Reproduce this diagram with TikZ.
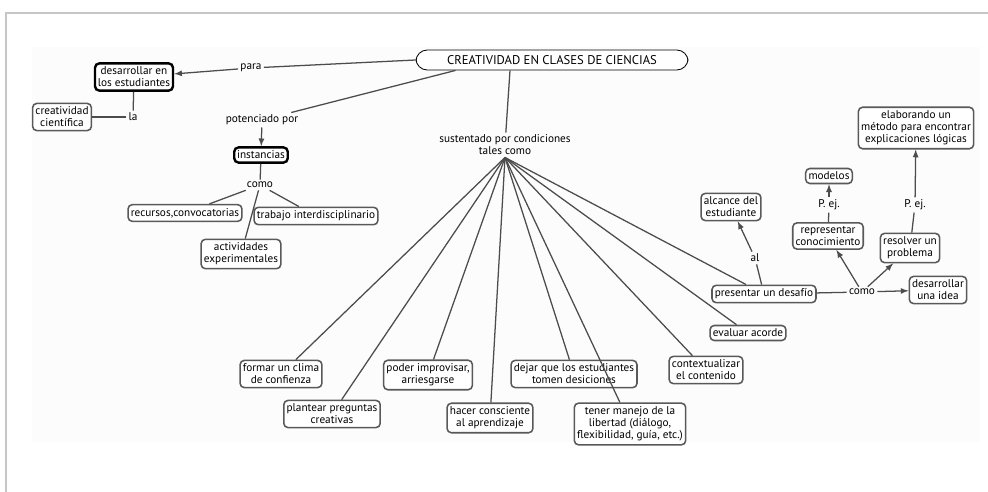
\documentclass[tikz,border=0pt]{standalone}
\usepackage{fontspec}
\setmainfont{PT Sans}
\usetikzlibrary{arrows, positioning}

\tikzset{
  concept/.style={draw=black!65, line width=1.1pt, rounded corners=3pt, fill=white,
    align=center, inner xsep=2pt, inner ysep=2.5pt, font=\fontsize{8}{8.6}\selectfont},
  keyconcept/.style={concept, draw=black, line width=1.7pt},
  linkword/.style={inner sep=1.5pt, align=center, font=\fontsize{8}{8.6}\selectfont},
  link/.style={draw=black!70, line width=0.9pt},
}

\begin{document}
\begin{tikzpicture}[x=0.025cm, y=-0.025cm]
\useasboundingbox (0,0) rectangle (988,492);

% The frame
\fill [black!1] (32,47) rectangle (980,442);
\draw [-][gray!45, line width=1.4pt] (6,492) -- (6,13) -- (988,13);

% The main concept
\node [draw, line width=0.6pt, rounded corners=8pt, fill=white, minimum width=6.8cm,
  minimum height=0.5cm, font=\fontsize{9}{10}\selectfont] (title) at (552,60)
  {CREATIVIDAD EN CLASES DE CIENCIAS};

% Left branch
\node [keyconcept] (desarr) at (134,77) {desarrollar en\\los estudiantes};
\node [concept] (creat) at (62,117) {creatividad\\científica};
\node [linkword] (la) at (133,117) {la};
\node [linkword] (para) at (251,68) {para};
\draw [link] (title.west) -- (para);
\draw [-latex][link] (para) -- (desarr);
\draw [link] (desarr) -- (la);
\draw [link] (la) -- (creat);

% Instancias
\node [linkword] (poten) at (262,120) {potenciado por};
\node [keyconcept] (inst) at (261,155) {instancias};
\node [linkword] (comoL) at (260,185) {como};
\node [concept] (recur) at (185,213) {recursos,convocatorias};
\node [concept] (trab) at (316,216) {trabajo interdisciplinario};
\node [concept] (activ) at (241,254) {actividades\\experimentales};
\draw [link] ([xshift=1cm]title.south west) -- (poten);
\draw [-latex][link] (poten) -- (inst);
\draw [link] (inst) -- (comoL);
\draw [link] (comoL) -- (recur);
\draw [link] (comoL) -- (trab);
\draw [link] (comoL) -- (activ);

% Conditions
\node [linkword] (sust) at (505,145) {sustentado por condiciones\\tales como};
\node [concept] (clima) at (281,374) {formar un clima\\de confienza};
\node [concept] (pregun) at (332,414) {plantear preguntas\\creativas};
\node [concept] (improv) at (428,375) {poder improvisar,\\arriesgarse};
\node [concept] (consc) at (490,418) {hacer consciente\\al aprendizaje};
\node [concept] (decid) at (574,374) {dejar que los estudiantes\\tomen desiciones};
\node [concept] (liber) at (630,424) {tener manejo de la\\libertad (diálogo,\\flexibilidad, guía, etc.)};
\node [concept] (contex) at (706,370) {contextualizar\\el contenido};
\node [concept] (evalu) at (748,333) {evaluar acorde};
\node [concept] (desaf) at (764,294) {presentar un desafío};
\draw [link] ([xshift=-1.05cm]title.south) -- (sust);
\foreach \target in {clima, pregun, improv, consc, decid, liber, contex, evalu, desaf}
  \draw [link] (sust.south) -- (\target);

% Presentar un desafio
\node [concept] (alcan) at (731,207) {alcance del\\estudiante};
\node [linkword] (al) at (755,258) {al};
\node [linkword] (comoR) at (862,292) {como};
\node [concept] (idea) at (938,290) {desarrollar\\una idea};
\node [concept] (repre) at (828,236) {representar\\conocimiento};
\node [concept] (resol) at (910,248) {resolver un\\problema};
\node [concept] (model) at (829,176) {modelos};
\node [linkword] (pejA) at (829,205) {P. ej.};
\node [concept] (elab) at (916,128) {elaborando un\\método para encontrar\\explicaciones lógicas};
\node [linkword] (pejB) at (915,205) {P. ej.};
\draw [link] (desaf) -- (al);
\draw [-latex][link] (al) -- (alcan);
\draw [link] (desaf) -- (comoR);
\draw [-latex][link] (comoR) -- (idea);
\draw [-latex][link] (comoR) -- (repre);
\draw [-latex][link] (comoR) -- (resol);
\draw [link] (repre) -- (pejA);
\draw [-latex][link] (pejA) -- (model);
\draw [link] (resol) -- (pejB);
\draw [-latex][link] (pejB) -- (elab);

\end{tikzpicture}
\end{document}
